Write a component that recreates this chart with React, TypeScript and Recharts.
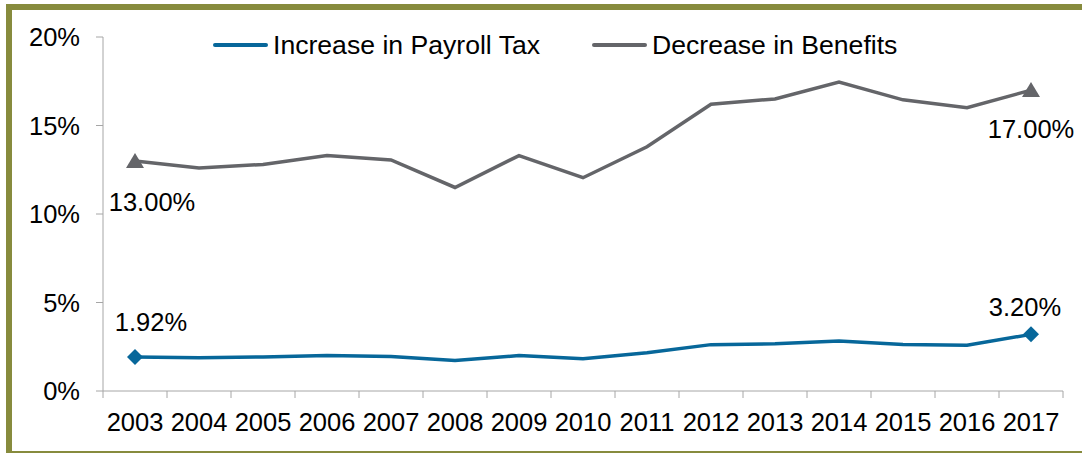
import { Legend, LabelList, Line, LineChart, XAxis, YAxis } from "recharts";

const years = [2003, 2004, 2005, 2006, 2007, 2008, 2009, 2010, 2011, 2012, 2013, 2014, 2015, 2016, 2017];
const payrollTax = [1.92, 1.88, 1.92, 2.0, 1.95, 1.72, 2.0, 1.82, 2.16, 2.62, 2.67, 2.82, 2.63, 2.58, 3.2];
const benefits = [13.0, 12.6, 12.8, 13.3, 13.05, 11.5, 13.3, 12.05, 13.8, 16.2, 16.5, 17.45, 16.45, 16.0, 17.0];
const yTicks = [0, 5, 10, 15, 20];
const xTicks = [2002.5, ...years.flatMap((y) => [y, y + 0.5])];

const data = years.map((year, i) => ({
  year,
  payroll: payrollTax[i],
  benefits: benefits[i],
}));

const BLUE = "#07679A";
const GRAY = "#646569";
const FONT = "'Liberation Sans', Arial, sans-serif";
const last = years.length - 1;

function XTick(props: any) {
  const { x, y, payload } = props;
  const v = payload.value as number;
  if (v % 1 !== 0) {
    return <line x1={x} x2={x} y1={y} y2={y + 7} stroke="#a6a6a6" strokeWidth={1} />;
  }
  return (
    <text x={x} y={y + 40} textAnchor="middle" fill="#000" fontSize={25.5} fontFamily={FONT}>
      {v}
    </text>
  );
}

function Diamond(props: any) {
  const { cx, cy, index } = props;
  if (index !== 0 && index !== last) return <g key={index} />;
  const r = 8;
  return (
    <path
      key={index}
      d={`M${cx},${cy - r} L${cx + r},${cy} L${cx},${cy + r} L${cx - r},${cy} Z`}
      fill={BLUE}
    />
  );
}

function Triangle(props: any) {
  const { cx, cy, index } = props;
  if (index !== 0 && index !== last) return <g key={index} />;
  return (
    <path
      key={index}
      d={`M${cx},${cy - 8} L${cx + 9},${cy + 7} L${cx - 9},${cy + 7} Z`}
      fill={GRAY}
    />
  );
}

function endLabel(offsets: [number, number][]) {
  return (props: any) => {
    const { x, y, index, value } = props;
    if (index !== 0 && index !== last) return null;
    const [dx, dy] = index === 0 ? offsets[0] : offsets[1];
    return (
      <text
        x={x + dx}
        y={y + dy + 9}
        textAnchor="middle"
        fill="#000"
        fontSize={25.5}
        fontFamily={FONT}
      >
        {`${Number(value).toFixed(2)}%`}
      </text>
    );
  };
}

function LegendBox() {
  const item = (color: string, label: string, width?: number) => (
    <div style={{ display: "flex", alignItems: "center", width }}>
      <div style={{ width: 55, height: 4, background: color, borderRadius: 2, marginRight: 5 }} />
      <span style={{ fontSize: 26.6, color: "#000", fontFamily: FONT, lineHeight: "30px" }}>{label}</span>
    </div>
  );
  return (
    <div style={{ display: "flex" }}>
      {item(BLUE, "Increase in Payroll Tax", 379)}
      {item(GRAY, "Decrease in Benefits")}
    </div>
  );
}

export default function App() {
  return (
    <div
      style={{
        position: "absolute",
        left: 0,
        top: 0,
        width: 1082,
        height: 453,
        background: "#fff",
        overflow: "hidden",
      }}
    >
      <div
        style={{
          position: "absolute",
          left: 6,
          top: 4,
          width: 1100,
          height: 453,
          boxSizing: "border-box",
          border: "6px solid #878B3D",
          borderRight: "none",
        }}
      />
      <LineChart
        width={1082}
        height={453}
        data={data}
        margin={{ top: 37, right: 19, bottom: 22, left: 43 }}
        style={{ position: "absolute", left: 0, top: 0 }}
      >
        <XAxis
          dataKey="year"
          type="number"
          domain={[2002.5, 2017.5]}
          ticks={xTicks}
          interval={0}
          height={40}
          tickSize={0}
          tickMargin={0}
          tickLine={false}
          axisLine={{ stroke: "#a6a6a6" }}
          tick={<XTick />}
        />
        <YAxis
          domain={[0, 20]}
          ticks={yTicks}
          width={60}
          tickSize={7}
          tickMargin={16}
          tickFormatter={(v: number) => `${v}%`}
          axisLine={{ stroke: "#a6a6a6" }}
          tickLine={{ stroke: "#a6a6a6" }}
          tick={{ fill: "#000", fontSize: 25.5, fontFamily: FONT }}
        />
        <Legend
          layout="vertical"
          verticalAlign="middle"
          align="center"
          wrapperStyle={{ top: 30, left: 213, width: 750, height: 30 }}
          content={() => <LegendBox />}
        />
        <Line
          dataKey="payroll"
          name="Increase in Payroll Tax"
          stroke={BLUE}
          strokeWidth={3.5}
          dot={<Diamond />}
          activeDot={false}
          isAnimationActive={false}
        >
          <LabelList content={endLabel([[16, -35], [-6, -27]])} />
        </Line>
        <Line
          dataKey="benefits"
          name="Decrease in Benefits"
          stroke={GRAY}
          strokeWidth={3.5}
          dot={<Triangle />}
          activeDot={false}
          isAnimationActive={false}
        >
          <LabelList content={endLabel([[17, 41], [0, 39]])} />
        </Line>
      </LineChart>
    </div>
  );
}
